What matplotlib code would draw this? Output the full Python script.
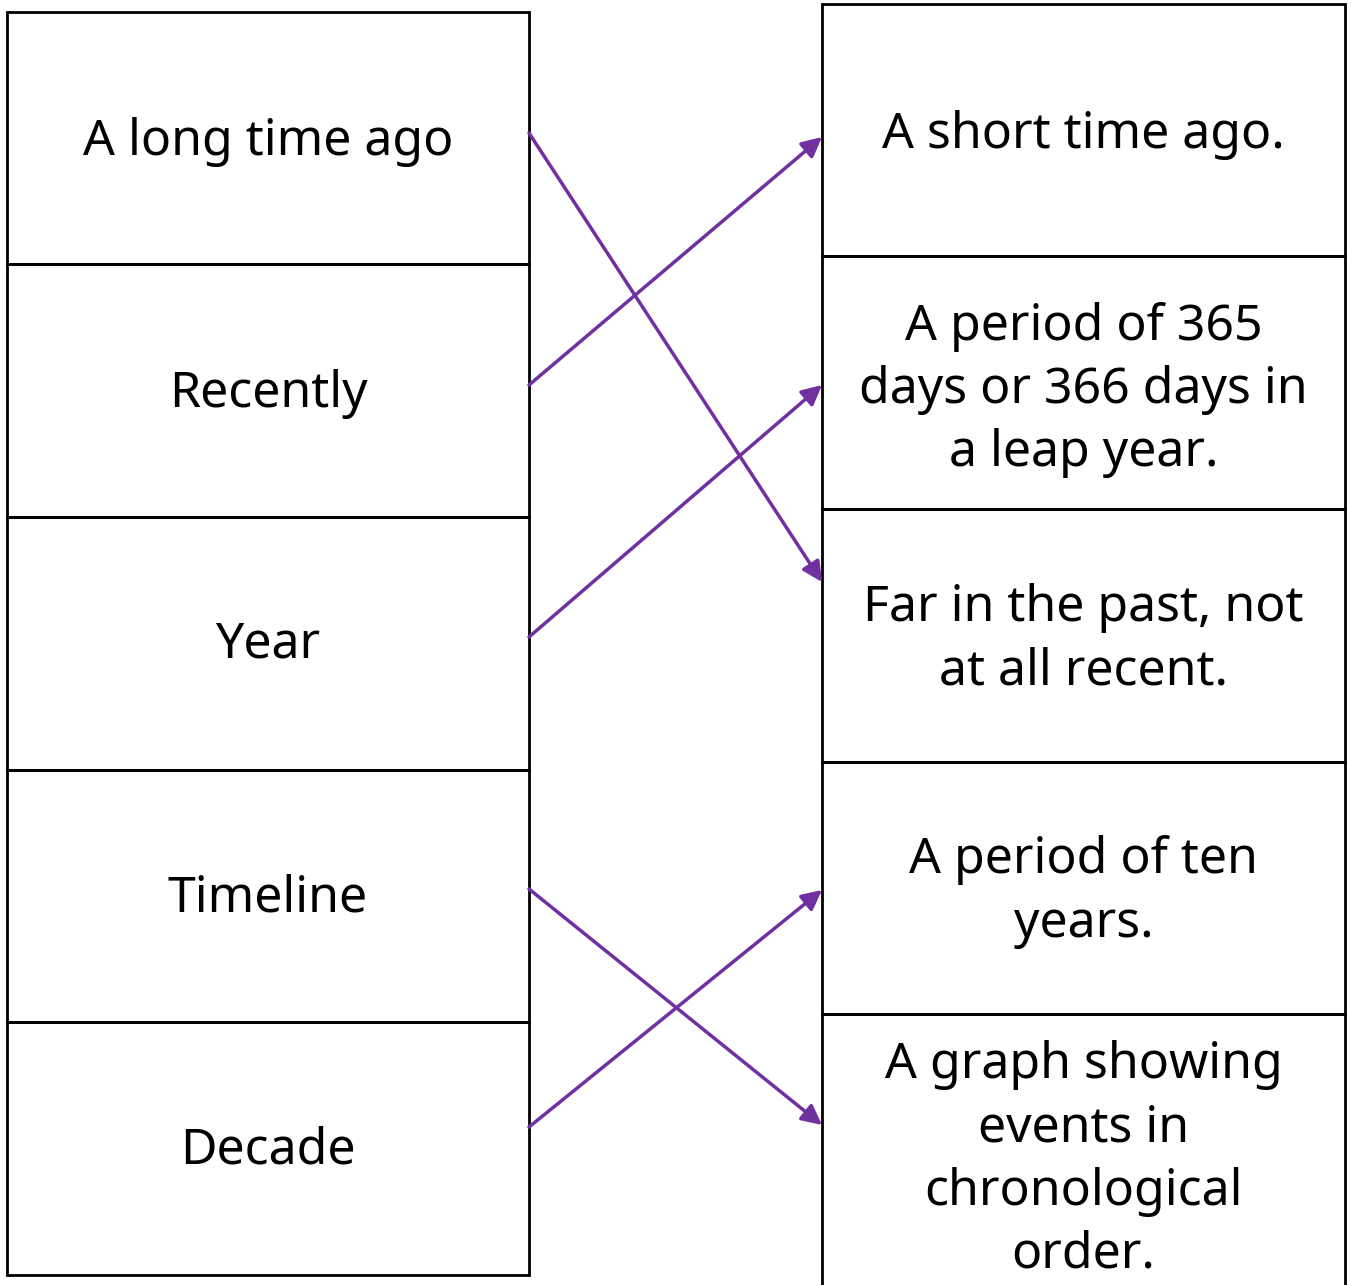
import matplotlib.pyplot as plt
from matplotlib.patches import Rectangle

# Terms (left column) and definitions (right column)
left_labels = ['A long time ago', 'Recently', 'Year', 'Timeline', 'Decade']
right_labels = ['A short time ago.',
                'A period of 365\ndays or 366 days in\na leap year.',
                'Far in the past, not\nat all recent.',
                'A period of ten\nyears.',
                'A graph showing\nevents in\nchronological\norder.']
# which right box each left box points to
matches = [2, 0, 1, 4, 3]
# arrow start y on each left box, arrow end y on each right box (px)
start_y = [133, 385, 637, 889, 1127]
end_y = [137, 385, 582, 890, 1125]

left_edges = [12, 264, 517, 770, 1022, 1275]
right_edges = [4, 256, 509, 762, 1014, 1290]
left_x = (7, 529)
right_x = (822, 1345)
text_y_left = [142, 394, 645, 898, 1151]
text_y_right = [135, 390, 640, 892, 1160]

W, H = 1351, 1285
fig = plt.figure(figsize=(W / 100, H / 100), dpi=100)
ax = fig.add_axes([0, 0, 1, 1])
ax.set_xlim(0, W)
ax.set_ylim(H, 0)
ax.axis('off')

font = 'Noto Sans'
fs = 36

for i, lab in enumerate(left_labels):
    y0, y1 = left_edges[i], left_edges[i + 1]
    ax.add_patch(Rectangle((left_x[0], y0), left_x[1] - left_x[0], y1 - y0,
                           fill=False, ec='black', lw=2))
    ax.text((left_x[0] + left_x[1]) / 2, text_y_left[i], lab, ha='center',
            va='center', fontsize=fs, family=font)

for i, lab in enumerate(right_labels):
    y0, y1 = right_edges[i], right_edges[i + 1]
    ax.add_patch(Rectangle((right_x[0], y0), right_x[1] - right_x[0], y1 - y0,
                           fill=False, ec='black', lw=2))
    ax.text((right_x[0] + right_x[1]) / 2, text_y_right[i], lab, ha='center',
            va='center', fontsize=fs, family=font, linespacing=1.35)

for i, m in enumerate(matches):
    ax.annotate('', xy=(right_x[0], end_y[m]), xytext=(left_x[1], start_y[i]),
                arrowprops=dict(arrowstyle='-|>', color='#7030A0', lw=2.5,
                                mutation_scale=30, shrinkA=0, shrinkB=0))

fig.savefig('out.png', dpi=100)
